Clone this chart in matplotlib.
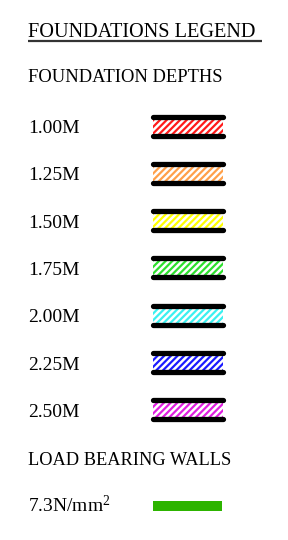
"""Foundations legend panel: depth swatches + load bearing wall key."""
import matplotlib
matplotlib.use("Agg")
import matplotlib.pyplot as plt
from matplotlib.patches import Rectangle

TITLE = "FOUNDATIONS LEGEND"
DEPTH_HEADING = "FOUNDATION DEPTHS"
depth_labels = ["1.00M", "1.25M", "1.50M", "1.75M", "2.00M", "2.25M", "2.50M"]
depth_colors = ["#ff1a1a", "#ffa04a", "#ffff00", "#2ee02e", "#3cf0f0", "#1a1aff", "#e020e0"]
WALL_HEADING = "LOAD BEARING WALLS"
wall_labels = ["7.3N/mm$^2$"]
wall_colors = ["#2db400"]

plt.rcParams["font.family"] = ["Liberation Serif", "DejaVu Serif"]
plt.rcParams["mathtext.fontset"] = "custom"
plt.rcParams["mathtext.rm"] = "Liberation Serif"
plt.rcParams["mathtext.default"] = "regular"
plt.rcParams["hatch.linewidth"] = 1.6

W, H = 288, 540
fig = plt.figure(figsize=(W / 100, H / 100), dpi=100)
ax = fig.add_axes([0, 0, 1, 1])
ax.set_xlim(0, W); ax.set_ylim(H, 0); ax.axis("off")

x_text = 28
ax.text(x_text, 37, TITLE, fontsize=14.6, va="baseline", ha="left")
ax.plot([x_text, 262], [40.5, 40.5], color="#333333", lw=1.6, solid_capstyle="butt")
ax.text(x_text, 82, DEPTH_HEADING, fontsize=13.3, va="baseline", ha="left")

x0, x1 = 153, 223
y_first, step = 126, 47.3
for i, (lab, col) in enumerate(zip(depth_labels, depth_colors)):
    yc = y_first + i * step
    ax.text(x_text, yc + 7, lab, fontsize=14, va="baseline", ha="left")
    ax.add_patch(Rectangle((x0, yc - 8), x1 - x0, 16, facecolor="white",
                           edgecolor=col, hatch="/////", lw=0))
    for dy in (-9.5, 9.5):
        ax.plot([x0, x1], [yc + dy, yc + dy], color="black", lw=3.8, solid_capstyle="round")

ax.text(x_text, 465, WALL_HEADING, fontsize=13.2, va="baseline", ha="left")
for j, (lab, col) in enumerate(zip(wall_labels, wall_colors)):
    yc = 506 + j * 47
    ax.text(x_text, yc + 6, lab, fontsize=14, va="baseline", ha="left")
    ax.add_patch(Rectangle((x0, yc - 5), x1 - x0 - 1, 10, facecolor=col, lw=0))

fig.savefig("out.png", dpi=100, facecolor="white")
